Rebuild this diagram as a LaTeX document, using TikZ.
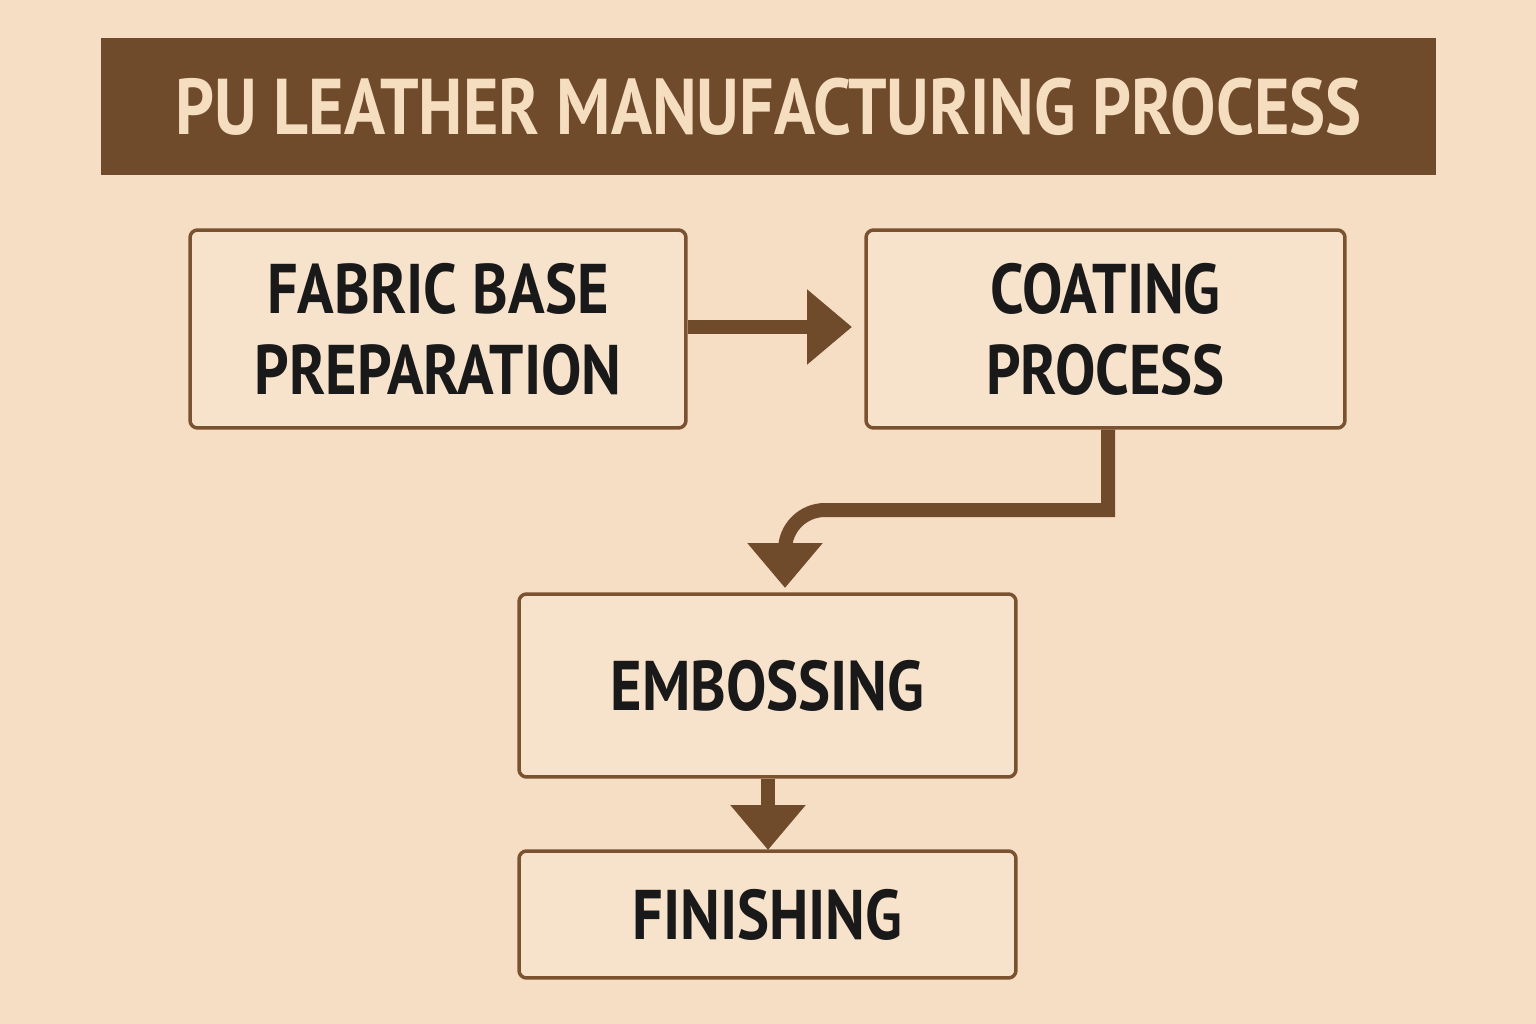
\documentclass[tikz,border=0pt]{standalone}
\usepackage{fontspec}
\setmainfont{PT Sans}[FakeStretch=0.86]
\usetikzlibrary{arrows.meta}
\definecolor{bg}{HTML}{F5DEC4}
\definecolor{brown}{HTML}{6F4A2B}
\definecolor{boxfill}{HTML}{F7E2CC}
\definecolor{boxline}{HTML}{7A5230}
\definecolor{titletext}{HTML}{F5DDC0}
\tikzset{
  stepbox/.style={draw=boxline,fill=boxfill,line width=0.07cm,rounded corners=0.15cm,align=center,
    font=\fontsize{40}{46}\selectfont\bfseries,text=black!90},
  flow/.style={draw=brown,line width=0.28cm,-{Triangle[length=0.9cm,width=1.45cm]}}
}
\begin{document}
\begin{tikzpicture}[x=0.02cm,y=-0.02cm]
\fill[bg] (0,0) rectangle (1536,1024);
\node[fill=brown,minimum width=26.7cm,minimum height=2.74cm,inner sep=0,
  font=\fontsize{45}{50}\selectfont\bfseries,text=titletext] (title) at (768.5,106.5) {PU LEATHER MANUFACTURING PROCESS};
\node[stepbox,minimum width=9.92cm,minimum height=3.96cm] (b1) at (438,329) {FABRIC BASE\\PREPARATION};
\node[stepbox,minimum width=9.58cm,minimum height=3.96cm] (b2) at (1105.5,329) {COATING\\PROCESS};
\node[stepbox,minimum width=9.94cm,minimum height=3.66cm] (b3) at (767.5,685.5) {EMBOSSING};
\node[stepbox,minimum width=9.94cm,minimum height=2.54cm] (b4) at (767.5,914.5) {FINISHING};
\coordinate (a1) at (852,327);
\draw[flow] (b1.east |- a1) -- (a1);
\coordinate (c2) at (1108,510);
\coordinate (c3) at (785,510);
\coordinate (a2) at (785,588);
\draw[flow] (b2.south -| c2) -- (c2) [rounded corners=0.8cm] -- (c3) -- (a2);
\coordinate (a3) at (768,850);
\draw[flow] (b3.south -| a3) -- (a3);
\end{tikzpicture}
\end{document}
